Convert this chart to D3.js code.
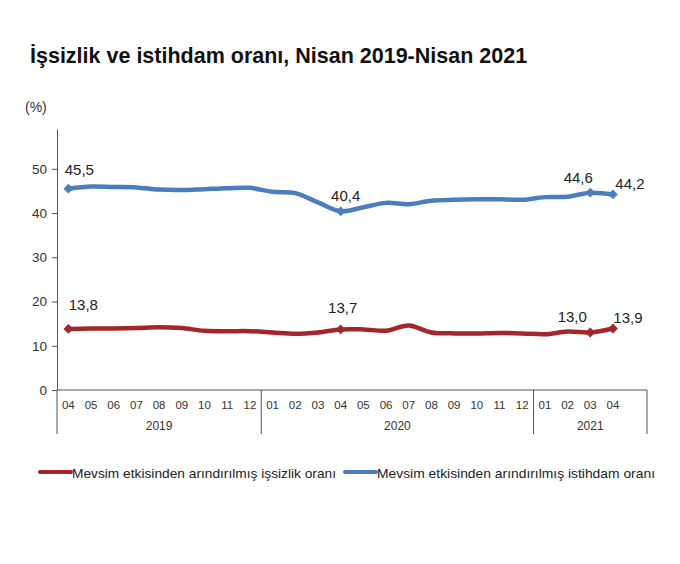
<!DOCTYPE html>
<html>
<head>
<meta charset="utf-8">
<script src="https://cdn.jsdelivr.net/npm/d3@7"></script>
<style>
  html, body { margin: 0; padding: 0; background: #fff; }
  svg { display: block; font-family: "Liberation Sans", Arial, sans-serif; }
</style>
</head>
<body>
<svg id="chart" width="680" height="564"></svg>
<script>
// ---- data ----
const titleText = "İşsizlik ve istihdam oranı, Nisan 2019-Nisan 2021";
const unitLabel = "(%)";
const monthLabels = ["04","05","06","07","08","09","10","11","12",
                     "01","02","03","04","05","06","07","08","09","10","11","12",
                     "01","02","03","04",""];
const yearLabels = ["2019", "2020", "2021"];
const yearMonthCounts = [9, 12, 5];
const yTicks = [0, 10, 20, 30, 40, 50];

const unemployment = [13.8, 13.9, 13.9, 14.0, 14.2, 14.0, 13.4, 13.3, 13.3,
                      13.0, 12.7, 13.0, 13.7, 13.7, 13.4, 14.6, 13.0, 12.8, 12.8, 12.9, 12.8,
                      12.6, 13.2, 13.0, 13.9];
const employment = [45.5, 46.0, 45.9, 45.8, 45.3, 45.2, 45.4, 45.6, 45.7,
                    44.8, 44.5, 42.4, 40.4, 41.3, 42.3, 42.0, 42.8, 43.0, 43.1, 43.1, 43.0,
                    43.6, 43.7, 44.6, 44.2];
const labeledIdx = [0, 12, 23, 24];
const seriesNames = ["Mevsim etkisinden arındırılmış işsizlik oranı",
                     "Mevsim etkisinden arındırılmış istihdam oranı"];

// ---- styling ----
const colors = ["#a3262b", "#4a7ebd"];
const labelOffsets = {
  employment: {0: [11, -14], 12: [5, -10], 23: [-12, -10], 24: [17, -5]},
  unemployment: {0: [15, -19], 12: [2, -16], 23: [-18, -10], 24: [15, -6]}
};

const svg = d3.select("#chart");
const plotLeft = 57, plotRight = 647, plotTop = 129, plotBottom = 390;

const x = d3.scaleBand().domain(d3.range(monthLabels.length)).range([plotLeft, plotRight]).paddingInner(0).paddingOuter(0);
const y = d3.scaleLinear().domain([0, 59]).range([plotBottom, plotTop]);
const cx = i => x(i) + x.bandwidth() / 2;

// title
svg.append("text").attr("x", 30).attr("y", 63)
  .attr("font-size", 21.5).attr("font-weight", "bold").attr("fill", "#111")
  .text(titleText);

// unit
svg.append("text").attr("x", 25).attr("y", 112)
  .attr("font-size", 14).attr("fill", "#333").text(unitLabel);

// y axis
const yAxis = d3.axisLeft(y).tickValues(yTicks).tickSize(5).tickSizeOuter(0).tickPadding(5);
const gy = svg.append("g").attr("transform", `translate(${plotLeft},0)`).call(yAxis);
gy.select(".domain").attr("stroke", "#555");
gy.selectAll(".tick line").attr("stroke", "#555");
gy.selectAll(".tick text").attr("font-size", 13.5).attr("fill", "#333").attr("font-family", "Liberation Sans, Arial, sans-serif");

// x axis line
svg.append("line").attr("x1", plotLeft).attr("x2", plotRight).attr("y1", plotBottom).attr("y2", plotBottom)
  .attr("stroke", "#555");

// month labels
svg.append("g").selectAll("text").data(monthLabels).join("text")
  .attr("x", (d, i) => cx(i)).attr("y", 409)
  .attr("text-anchor", "middle").attr("font-size", 11.5).attr("fill", "#333")
  .text(d => d);

// year groups
let acc = 0;
const bounds = [0];
yearMonthCounts.forEach(c => { acc += c; bounds.push(acc); });
const bx = b => (b < monthLabels.length ? x(b) : plotRight);
svg.append("g").selectAll("line").data(bounds).join("line")
  .attr("x1", bx).attr("x2", bx)
  .attr("y1", plotBottom).attr("y2", 434)
  .attr("stroke", "#555");
svg.append("g").selectAll("text").data(yearLabels).join("text")
  .attr("x", (d, i) => (bx(bounds[i]) + bx(bounds[i + 1])) / 2)
  .attr("y", 430).attr("text-anchor", "middle").attr("font-size", 12).attr("fill", "#333")
  .text(d => d);

// lines
const line = d3.line().x((d, i) => cx(i)).y(d => y(d)).curve(d3.curveCatmullRom.alpha(0.5));
const series = [
  {key: "unemployment", values: unemployment, color: colors[0]},
  {key: "employment", values: employment, color: colors[1]}
];
const fmt = v => d3.format(".1f")(v).replace(".", ",");
const diamond = d3.symbol(d3.symbolSquare, 48);

series.forEach(s => {
  svg.append("path").datum(s.values).attr("d", line)
    .attr("fill", "none").attr("stroke", s.color).attr("stroke-width", 4.5)
    .attr("stroke-linejoin", "round").attr("stroke-linecap", "round");
  svg.append("g").selectAll("path").data(labeledIdx).join("path")
    .attr("d", diamond)
    .attr("transform", i => `translate(${cx(i)},${y(s.values[i])}) rotate(45)`)
    .attr("fill", s.color);
  svg.append("g").selectAll("text").data(labeledIdx).join("text")
    .attr("x", i => cx(i) + labelOffsets[s.key][i][0])
    .attr("y", i => y(s.values[i]) + labelOffsets[s.key][i][1])
    .attr("text-anchor", "middle").attr("font-size", 15).attr("fill", "#222")
    .text(i => fmt(s.values[i]));
});

// legend
const legend = [
  {name: seriesNames[0], color: colors[0], x: 40, len: 264},
  {name: seriesNames[1], color: colors[1], x: 345, len: 278}
];
legend.forEach(l => {
  svg.append("line").attr("x1", l.x).attr("x2", l.x + 31).attr("y1", 472).attr("y2", 472)
    .attr("stroke", l.color).attr("stroke-width", 4).attr("stroke-linecap", "round");
  svg.append("text").attr("x", l.x + 32).attr("y", 478)
    .attr("font-size", 13.5).attr("fill", "#222")
    .attr("textLength", l.len).attr("lengthAdjust", "spacingAndGlyphs")
    .text(l.name);
});
</script>
</body>
</html>
